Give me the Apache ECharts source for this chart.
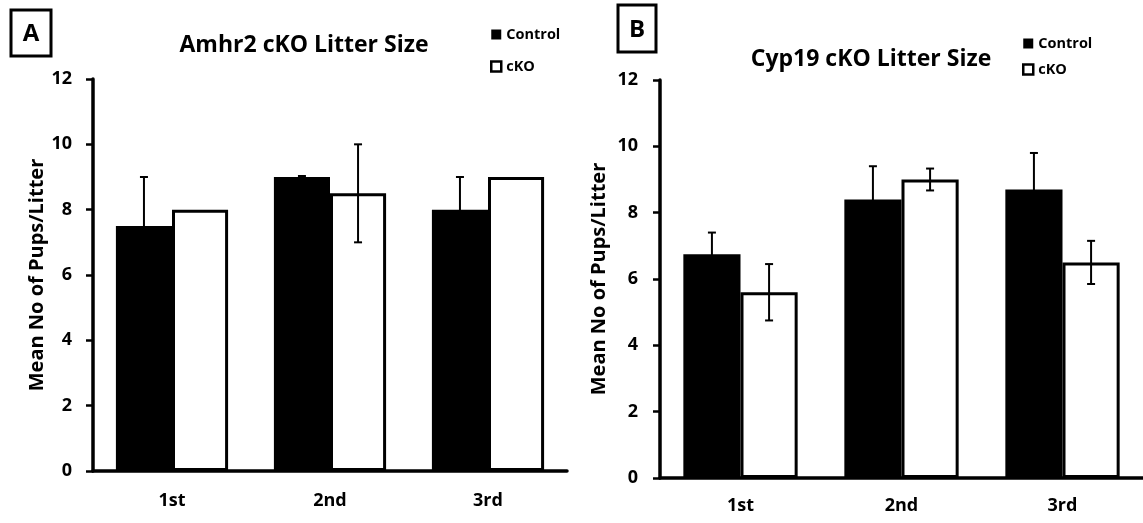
<!DOCTYPE html>
<html>
<head>
<meta charset="utf-8">
<script src="https://cdn.jsdelivr.net/npm/echarts@6/dist/echarts.min.js"></script>
<style>html,body{margin:0;padding:0;background:#fff}#c{width:1143px;height:523px}</style>
</head>
<body>
<div id="c"></div>
<script>
// ---- data ----
const categories = ['1st', '2nd', '3rd'];
const yTicks = [0, 2, 4, 6, 8, 10, 12];
const seriesNames = ['Control', 'cKO'];
// Panel A: Amhr2 cKO Litter Size
const amhrControl = [7.5, 9.0, 8.0];
const amhrControlErr = [1.5, 0.03, 1.0];
const amhrCKO = [8.0, 8.5, 9.0];
const amhrCKOErr = [0, 1.5, 0];
// Panel B: Cyp19 cKO Litter Size
const cypControl = [6.75, 8.4, 8.7];
const cypControlErr = [0.65, 1.0, 1.1];
const cypCKO = [5.6, 9.0, 6.5];
const cypCKOErr = [0.85, 0.33, 0.65];

const FONT = 'Open Sans';
const GAP = 0.29;

function errData(vals, errs) { return vals.map((v, i) => [i, v, errs[i]]); }

function errRender(sign) {
  return function (params, api) {
    const i = api.value(0), m = api.value(1), e = api.value(2);
    if (!e) return null;
    const band = api.size([1, 0])[0];
    const off = sign * band * (1 - GAP) / 4;
    const t = api.coord([i, m + e]);
    const b = api.coord([i, m - e]);
    const x = t[0] + off;
    const cap = 4;
    const st = { stroke: '#000', lineWidth: 2 };
    return {
      type: 'group',
      children: [
        { type: 'line', shape: { x1: x, y1: t[1], x2: x, y2: b[1] }, style: st },
        { type: 'line', shape: { x1: x - cap, y1: t[1], x2: x + cap, y2: t[1] }, style: st },
        { type: 'line', shape: { x1: x - cap, y1: b[1], x2: x + cap, y2: b[1] }, style: st }
      ]
    };
  };
}

function xAxis(gi, margin) {
  return {
    type: 'category', gridIndex: gi, data: categories,
    axisLine: { lineStyle: { color: '#000', width: 3.5 } },
    axisTick: { show: false },
    axisLabel: { color: '#000', fontFamily: FONT, fontWeight: 'bold', fontSize: 18, margin: margin }
  };
}
function yAxis(gi, gap, margin) {
  return {
    type: 'value', gridIndex: gi, min: yTicks[0], max: yTicks[yTicks.length - 1], interval: 2,
    name: 'Mean No of Pups/Litter', nameLocation: 'middle', nameGap: gap,
    nameTextStyle: { color: '#000', fontFamily: FONT, fontWeight: 'bold', fontSize: 20 },
    axisLine: { show: true, lineStyle: { color: '#000', width: 3.5 } },
    axisTick: { show: true, length: 7, lineStyle: { color: '#000', width: 2.5 } },
    axisLabel: { color: '#000', fontFamily: FONT, fontWeight: 'bold', fontSize: 18, margin: margin },
    splitLine: { show: false }
  };
}
function bars(gi, name, vals, fill, bw) {
  return {
    type: 'bar', name: name, xAxisIndex: gi, yAxisIndex: gi, data: vals,
    barGap: '0%', barCategoryGap: (GAP * 100) + '%',
    itemStyle: { color: fill, borderColor: '#000', borderWidth: bw },
    emphasis: { disabled: true }, z: 2
  };
}
function errSeries(gi, vals, errs, sign) {
  return {
    type: 'custom', xAxisIndex: gi, yAxisIndex: gi, data: errData(vals, errs),
    renderItem: errRender(sign), z: 5, silent: true
  };
}
function legend(left, top, gap) {
  return {
    data: [
      { name: seriesNames[0], itemStyle: { color: '#000', borderWidth: 0 } },
      { name: seriesNames[1], itemStyle: { color: '#fff', borderColor: '#000', borderWidth: 2.5 } }
    ],
    orient: 'vertical', left: left, top: top, itemGap: gap, itemWidth: 10, itemHeight: 10,
    icon: 'rect', selectedMode: false, padding: 0,
    textStyle: { color: '#000', fontFamily: FONT, fontWeight: 'bold', fontSize: 14.5 }
  };
}

const chart = echarts.init(document.getElementById('c'), null, { renderer: 'canvas' });
chart.setOption({
  animation: false,
  backgroundColor: '#fff',
  title: [
    { text: 'Amhr2 cKO Litter Size', left: 299, top: 29, textAlign: 'center',
      textStyle: { color: '#000', fontFamily: FONT, fontWeight: 'bold', fontSize: 23 } },
    { text: 'Cyp19 cKO Litter Size', left: 866, top: 43, textAlign: 'center',
      textStyle: { color: '#000', fontFamily: FONT, fontWeight: 'bold', fontSize: 23 } }
  ],
  legend: [legend(490, 27, 17), legend(1022, 36, 11)],
  graphic: [
    { type: 'rect', shape: { x: 11, y: 10, width: 40, height: 46 }, style: { fill: 'none', stroke: '#000', lineWidth: 3 } },
    { type: 'text', x: 31, y: 34, style: { text: 'A', font: 'bold 24px "Open Sans"', fill: '#000', align: 'center', verticalAlign: 'middle' } },
    { type: 'rect', shape: { x: 618, y: 5, width: 38, height: 47 }, style: { fill: 'none', stroke: '#000', lineWidth: 3 } },
    { type: 'text', x: 637, y: 30, style: { text: 'B', font: 'bold 24px "Open Sans"', fill: '#000', align: 'center', verticalAlign: 'middle' } }
  ],
  grid: [
    { left: 93, top: 79, width: 474, height: 392 },
    { left: 660, top: 80, width: 489, height: 398 }
  ],
  xAxis: [xAxis(0, 21), xAxis(1, 19)],
  yAxis: [yAxis(0, 46, 21), yAxis(1, 51, 22)],
  series: [
    bars(0, 'Control', amhrControl, '#000', 0),
    bars(0, 'cKO', amhrCKO, '#fff', 3),
    errSeries(0, amhrControl, amhrControlErr, -1),
    errSeries(0, amhrCKO, amhrCKOErr, 1),
    bars(1, 'Control', cypControl, '#000', 0),
    bars(1, 'cKO', cypCKO, '#fff', 3),
    errSeries(1, cypControl, cypControlErr, -1),
    errSeries(1, cypCKO, cypCKOErr, 1)
  ]
});
</script>
</body>
</html>
